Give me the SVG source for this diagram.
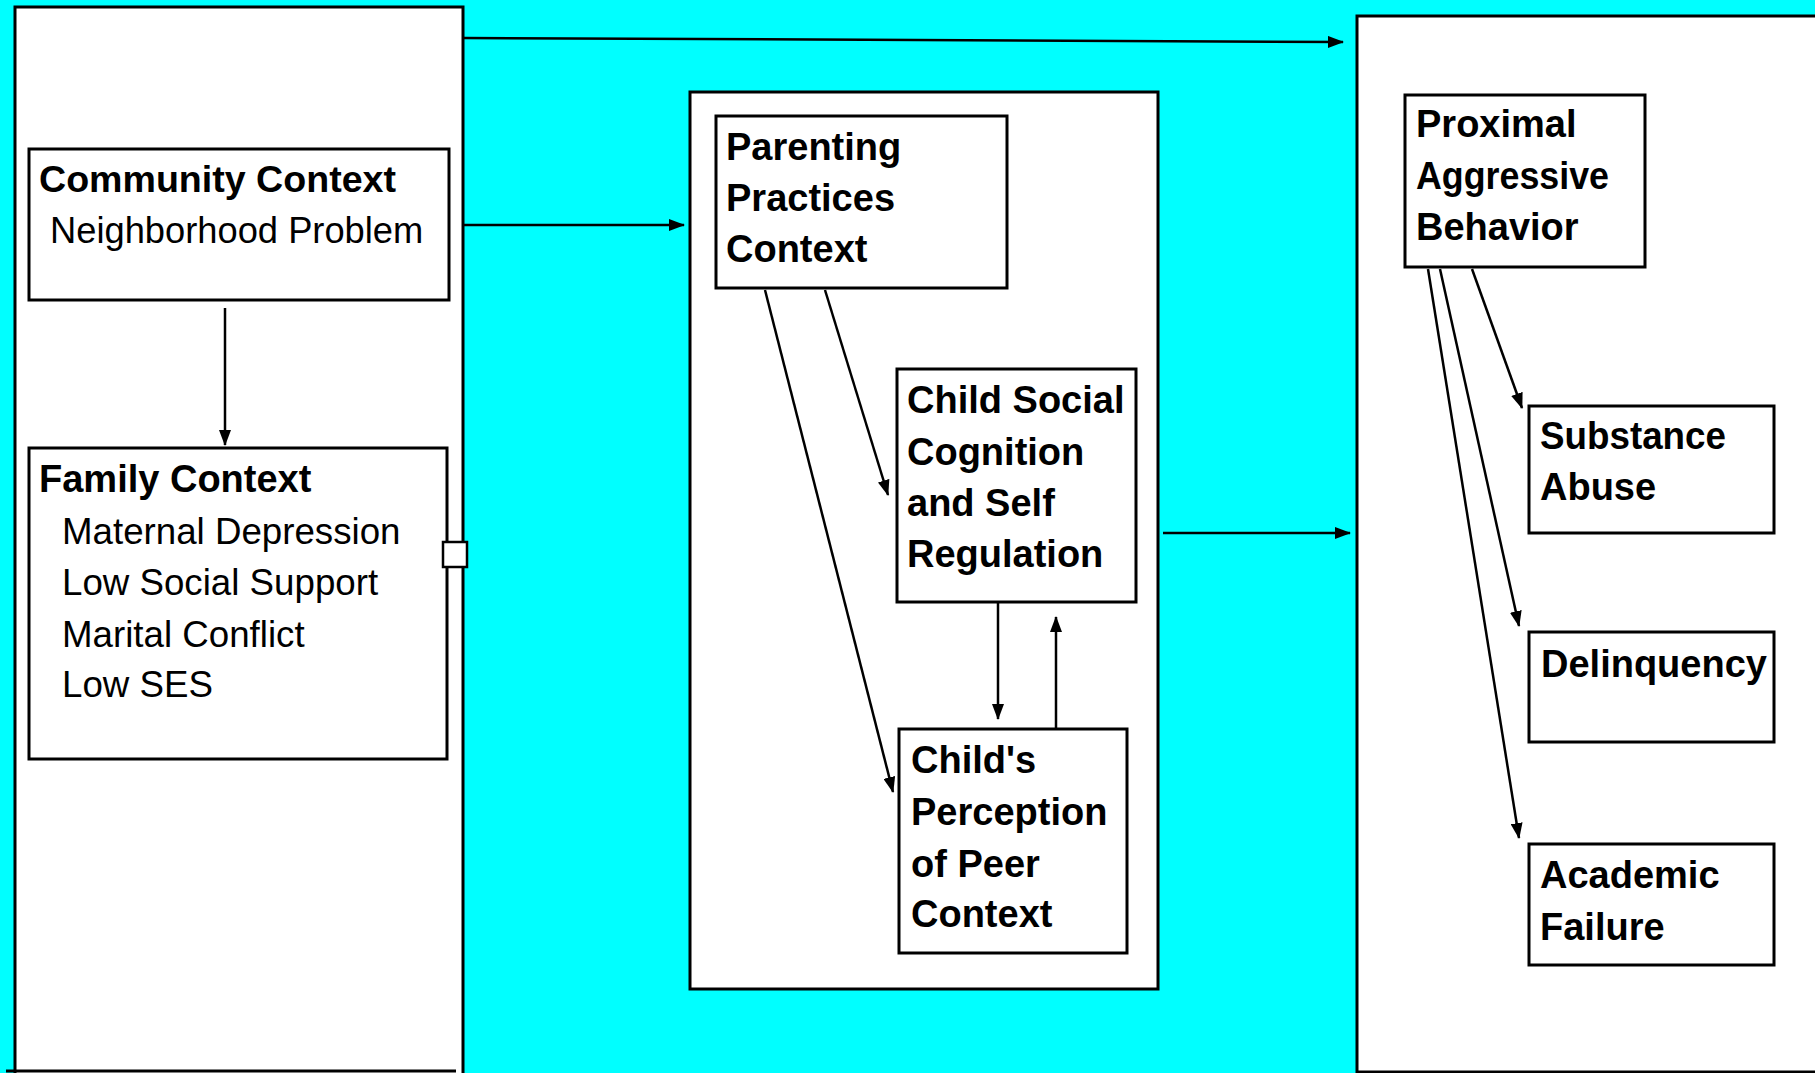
<svg xmlns="http://www.w3.org/2000/svg" width="1815" height="1073" viewBox="0 0 1815 1073">
  <style>
    .panel { fill: #ffffff; stroke: #000000; stroke-width: 3; }
    .box { fill: #ffffff; stroke: #000000; stroke-width: 3; }
    .title { font-family: "Liberation Sans", Arial, sans-serif; font-weight: bold; font-size: 38px; fill: #000000; }
    .item { font-family: "Liberation Sans", Arial, sans-serif; font-size: 36.7px; fill: #000000; }
    .edge { fill: none; stroke: #000000; stroke-width: 2.5; }
  </style>
  <defs>
    <marker id="arrow" markerUnits="userSpaceOnUse" markerWidth="16" markerHeight="12" refX="15" refY="6" orient="auto">
      <path d="M0,0 L16,6 L0,12 Z" fill="#000000"/>
    </marker>
  </defs>

  <!-- background -->
  <rect x="0" y="0" width="1815" height="1073" fill="#00ffff"/>

  <!-- column panels -->
  <g id="panel-context">
    <rect class="panel" x="15" y="7" width="448" height="1080"/>
    <line x1="6" y1="1071" x2="456" y2="1071" stroke="#000000" stroke-width="3"/>
  </g>
  <g id="panel-mediators">
    <rect class="panel" x="690" y="92" width="468" height="897"/>
  </g>
  <g id="panel-outcomes">
    <rect class="panel" x="1357" y="16" width="480" height="1056"/>
  </g>

  <!-- nodes -->
  <g id="community-context">
    <rect class="box" x="29" y="149" width="420" height="151"/>
    <text class="title" x="39" y="192" style="font-size:37.6px">Community Context</text>
    <text class="item" x="50" y="243" style="font-size:36.3px">Neighborhood Problem</text>
  </g>

  <g id="family-context">
    <rect class="box" x="29" y="448" width="418" height="311"/>
    <text class="title" x="39" y="492">Family Context</text>
    <text class="item" x="62" y="544">Maternal Depression</text>
    <text class="item" x="62" y="595">Low Social Support</text>
    <text class="item" x="62" y="647">Marital Conflict</text>
    <text class="item" x="62" y="697">Low SES</text>
  </g>

  <g id="parenting-practices">
    <rect class="box" x="716" y="116" width="291" height="172"/>
    <text class="title" x="726" y="160">Parenting</text>
    <text class="title" x="726" y="211">Practices</text>
    <text class="title" x="726" y="262">Context</text>
  </g>

  <g id="child-social-cognition">
    <rect class="box" x="897" y="369" width="239" height="233"/>
    <text class="title" x="907" y="413">Child Social</text>
    <text class="title" x="907" y="465">Cognition</text>
    <text class="title" x="907" y="516">and Self</text>
    <text class="title" x="907" y="567">Regulation</text>
  </g>

  <g id="peer-perception">
    <rect class="box" x="899" y="729" width="228" height="224"/>
    <text class="title" x="911" y="773">Child's</text>
    <text class="title" x="911" y="825">Perception</text>
    <text class="title" x="911" y="877">of Peer</text>
    <text class="title" x="911" y="927">Context</text>
  </g>

  <g id="proximal-aggression">
    <rect class="box" x="1405" y="95" width="240" height="172"/>
    <text class="title" x="1416" y="137">Proximal</text>
    <text class="title" x="1416" y="189" textLength="193" lengthAdjust="spacingAndGlyphs">Aggressive</text>
    <text class="title" x="1416" y="240">Behavior</text>
  </g>

  <g id="substance-abuse">
    <rect class="box" x="1529" y="406" width="245" height="127"/>
    <text class="title" x="1540" y="449" textLength="186" lengthAdjust="spacingAndGlyphs">Substance</text>
    <text class="title" x="1540" y="500">Abuse</text>
  </g>

  <g id="delinquency">
    <rect class="box" x="1529" y="632" width="245" height="110"/>
    <text class="title" x="1541" y="677">Delinquency</text>
  </g>

  <g id="academic-failure">
    <rect class="box" x="1529" y="844" width="245" height="121"/>
    <text class="title" x="1540" y="888">Academic</text>
    <text class="title" x="1540" y="940">Failure</text>
  </g>

  <!-- connectors -->
  <g id="connectors">
    <line class="edge" x1="464" y1="38" x2="1343" y2="42" marker-end="url(#arrow)"/>
    <line class="edge" x1="464" y1="225" x2="684" y2="225" marker-end="url(#arrow)"/>
    <line class="edge" x1="225" y1="308" x2="225" y2="445" marker-end="url(#arrow)"/>
    <rect x="443" y="542" width="24" height="25" fill="#ffffff" stroke="#000000" stroke-width="2.5"/>
    <line class="edge" x1="825" y1="290" x2="888" y2="495" marker-end="url(#arrow)"/>
    <line class="edge" x1="765" y1="290" x2="893" y2="792" marker-end="url(#arrow)"/>
    <line class="edge" x1="998" y1="603" x2="998" y2="719" marker-end="url(#arrow)"/>
    <line class="edge" x1="1056" y1="728" x2="1056" y2="617" marker-end="url(#arrow)"/>
    <line class="edge" x1="1163" y1="533" x2="1350" y2="533" marker-end="url(#arrow)"/>
    <line class="edge" x1="1472" y1="269" x2="1522" y2="408" marker-end="url(#arrow)"/>
    <line class="edge" x1="1440" y1="269" x2="1519" y2="626" marker-end="url(#arrow)"/>
    <line class="edge" x1="1428" y1="269" x2="1519" y2="838" marker-end="url(#arrow)"/>
  </g>
</svg>
